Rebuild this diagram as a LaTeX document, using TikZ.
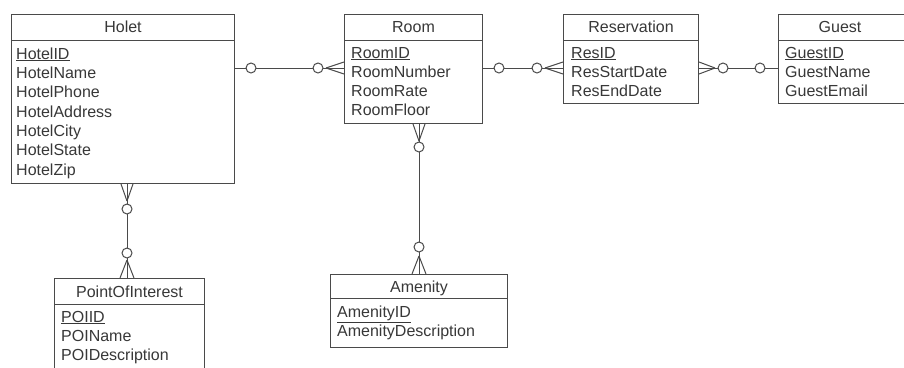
\documentclass[tikz,border=0pt]{standalone}
\usepackage{fontspec}
\setmainfont{Liberation Sans}
\usetikzlibrary{calc}
\definecolor{linec}{HTML}{4A4A4A}
\definecolor{txtc}{HTML}{383838}
\begin{document}
\begin{tikzpicture}[x=1pt,y=-1pt,
  ent/.style={draw=linec, line width=1pt, inner sep=0pt, anchor=north west},
  attr/.style={anchor=base west, inner sep=0pt, text=txtc, font=\fontsize{16pt}{19pt}\selectfont},
  ttl/.style={anchor=base, inner sep=0pt, text=txtc, font=\fontsize{16pt}{19pt}\selectfont},
  conn/.style={draw=linec, line width=1pt},
  opt/.style={circle, draw=linec, fill=white, minimum size=10pt, inner sep=0pt, line width=1pt}]
\useasboundingbox (0,0) rectangle (904,367);
\fill[white] (0,0) rectangle (904,367);
\begin{scope}
\clip (0,0) rectangle (904,367);
% ---------- entities ----------
\node[ent, minimum width=223pt, minimum height=169pt] (hotel) at (11,14) {};
\node[ent, minimum width=138pt, minimum height=109pt] (room) at (344,14) {};
\node[ent, minimum width=135pt, minimum height=89pt] (res) at (563,14) {};
\node[ent, minimum width=140pt, minimum height=89pt] (guest) at (778,14) {};
\node[ent, minimum width=150pt, minimum height=100pt] (poi) at (54,278) {};
\node[ent, minimum width=177pt, minimum height=73pt] (amen) at (330,274) {};
% header lines
\foreach \e in {hotel,room,res,guest,poi}{
  \draw[conn] ($(\e.north west)+(0,26)$) -- ($(\e.north east)+(0,26)$);
}
\draw[conn] ($(amen.north west)+(0,24)$) -- ($(amen.north east)+(0,24)$);
% titles
\node[ttl] (hotelT) at ($(hotel.north)+(0,18)$) {Holet};
\node[ttl] (roomT) at ($(room.north)+(0,18)$) {Room};
\node[ttl] (resT) at ($(res.north)+(0,18)$) {Reservation};
\node[ttl] (guestT) at ($(guest.north west)+(62,18)$) {Guest};
\node[ttl] (poiT) at ($(poi.north)+(0,19)$) {PointOfInterest};
\node[ttl] (amenT) at ($(amen.north)+(0,18)$) {Amenity};
% attributes
\node[attr] (h1) at ($(hotel.north west)+(5,45)$) {\underline{HotelID}};
\node[attr] (h2) at ($(hotel.north west)+(5,64.3)$) {HotelName};
\node[attr] (h3) at ($(hotel.north west)+(5,83.7)$) {HotelPhone};
\node[attr] (h4) at ($(hotel.north west)+(5,103)$) {HotelAddress};
\node[attr] (h5) at ($(hotel.north west)+(5,122.3)$) {HotelCity};
\node[attr] (h6) at ($(hotel.north west)+(5,141.7)$) {HotelState};
\node[attr] (h7) at ($(hotel.north west)+(5,161)$) {HotelZip};
\node[attr] (r1) at ($(room.north west)+(7,44)$) {\underline{RoomID}};
\node[attr] (r2) at ($(room.north west)+(7,63)$) {RoomNumber};
\node[attr] (r3) at ($(room.north west)+(7,82)$) {RoomRate};
\node[attr] (r4) at ($(room.north west)+(7,101)$) {RoomFloor};
\node[attr] (s1) at ($(res.north west)+(8,44)$) {\underline{ResID}};
\node[attr] (s2) at ($(res.north west)+(8,63)$) {ResStartDate};
\node[attr] (s3) at ($(res.north west)+(8,82)$) {ResEndDate};
\node[attr] (g1) at ($(guest.north west)+(7,44)$) {\underline{GuestID}};
\node[attr] (g2) at ($(guest.north west)+(7,63)$) {GuestName};
\node[attr] (g3) at ($(guest.north west)+(7,82)$) {GuestEmail};
\node[attr] (p1) at ($(poi.north west)+(7,44)$) {\underline{POIID}};
\node[attr] (p2) at ($(poi.north west)+(7,63)$) {POIName};
\node[attr] (p3) at ($(poi.north west)+(7,82)$) {POIDescription};
\node[attr] (a1) at ($(amen.north west)+(7,43)$) {\underline{AmenityID}};
\node[attr] (a2) at ($(amen.north west)+(7,62)$) {AmenityDescription};
% ---------- Hotel -- Room ----------
\draw[conn] ($(hotel.north east)+(0,54)$) -- ($(room.north west)+(0,54)$);
\draw[conn] ($(room.north west)+(-18,54)$) -- ($(room.north west)+(0,48)$);
\draw[conn] ($(room.north west)+(-18,54)$) -- ($(room.north west)+(0,60)$);
\node[opt] (c1) at ($(hotel.north east)+(16,54)$) {};
\node[opt] (c2) at ($(room.north west)+(-26,54)$) {};
% ---------- Room -- Reservation ----------
\draw[conn] ($(room.north east)+(0,54)$) -- ($(res.north west)+(0,54)$);
\draw[conn] ($(res.north west)+(-18,54)$) -- ($(res.north west)+(0,48)$);
\draw[conn] ($(res.north west)+(-18,54)$) -- ($(res.north west)+(0,60)$);
\node[opt] (c3) at ($(room.north east)+(16,54)$) {};
\node[opt] (c4) at ($(res.north west)+(-26,54)$) {};
% ---------- Reservation -- Guest ----------
\draw[conn] ($(res.north east)+(0,54)$) -- ($(guest.north west)+(0,54)$);
\draw[conn] ($(res.north east)+(16,54)$) -- ($(res.north east)+(0,48)$);
\draw[conn] ($(res.north east)+(16,54)$) -- ($(res.north east)+(0,60)$);
\node[opt] (c5) at ($(res.north east)+(24,54)$) {};
\node[opt] (c6) at ($(guest.north west)+(-18,54)$) {};
% ---------- Hotel -- PointOfInterest ----------
\coordinate (hb) at ($(hotel.south west)+(116,0)$);
\coordinate (pt) at ($(poi.north west)+(73,0)$);
\draw[conn] (hb) -- (pt);
\draw[conn] ($(hb)+(0,17)$) -- ($(hb)+(-6,0)$);
\draw[conn] ($(hb)+(0,17)$) -- ($(hb)+(6,0)$);
\draw[conn] ($(pt)+(0,-18)$) -- ($(pt)+(-7,0)$);
\draw[conn] ($(pt)+(0,-18)$) -- ($(pt)+(7,0)$);
\node[opt] (c7) at ($(hb)+(0,25)$) {};
\node[opt] (c8) at ($(pt)+(0,-25)$) {};
% ---------- Room -- Amenity ----------
\coordinate (rb) at ($(room.south west)+(75,0)$);
\coordinate (at) at ($(amen.north west)+(89,0)$);
\draw[conn] (rb) -- (at);
\draw[conn] ($(rb)+(0,17)$) -- ($(rb)+(-6,0)$);
\draw[conn] ($(rb)+(0,17)$) -- ($(rb)+(6,0)$);
\draw[conn] ($(at)+(0,-18)$) -- ($(at)+(-7,0)$);
\draw[conn] ($(at)+(0,-18)$) -- ($(at)+(7,0)$);
\node[opt] (c9) at ($(rb)+(0,23)$) {};
\node[opt] (c10) at ($(at)+(0,-27)$) {};
\end{scope}
\end{tikzpicture}
\end{document}
